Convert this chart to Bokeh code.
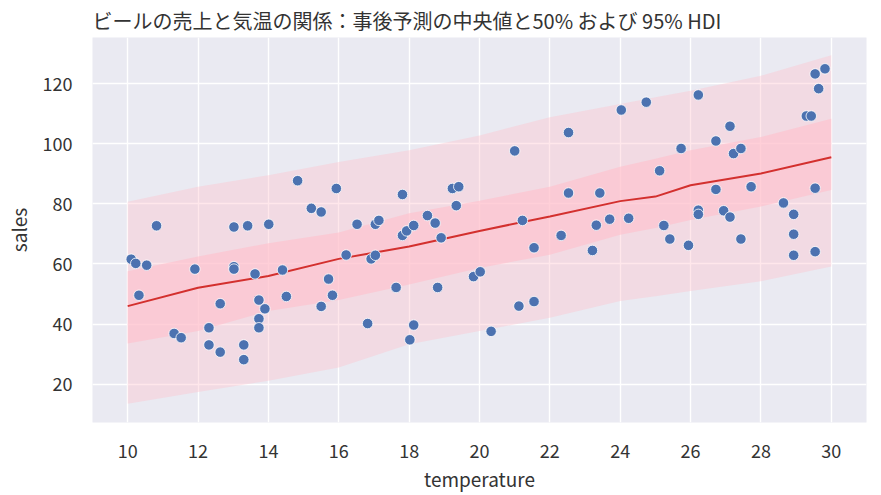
from bokeh.plotting import figure
from bokeh.models import ColumnDataSource, Range1d, FixedTicker
from bokeh.embed import file_html
from bokeh.resources import INLINE

# observed data (temperature, sales)
temperature = [10.10, 10.23, 10.54, 10.32, 10.82, 11.32, 11.52, 11.91, 12.31, 12.31,
               12.63, 12.63, 13.02, 13.02, 13.02, 13.30, 13.30, 13.41, 13.62, 13.73,
               13.73, 13.73, 13.90, 14.01, 14.40, 14.51, 14.83, 15.22, 15.50, 15.50,
               15.71, 15.82, 15.93, 16.21, 16.52, 16.82, 16.92, 17.04, 17.04, 17.14,
               17.63, 17.81, 17.81, 17.93, 18.02, 18.13, 18.13, 18.52, 18.74, 18.81,
               18.91, 19.23, 19.41, 19.34, 19.83, 20.02, 20.33, 21.00, 21.12, 21.22,
               21.55, 21.55, 22.32, 22.53, 22.53, 23.21, 23.32, 23.42, 23.70, 24.03,
               24.24, 24.74, 25.12, 25.24, 25.41, 25.73, 25.94, 26.22, 26.22, 26.22,
               26.72, 26.72, 26.94, 27.12, 27.12, 27.22, 27.43, 27.43, 27.72, 28.64,
               28.93, 28.93, 28.93, 29.29, 29.43, 29.54, 29.64, 29.82, 29.54, 29.54]
sales = [61.6, 60.2, 59.6, 49.6, 72.7, 36.9, 35.5, 58.3, 38.8, 33.1,
         46.8, 30.7, 72.3, 59.1, 58.3, 33.1, 28.2, 72.7, 56.7, 48.0,
         41.8, 38.8, 45.1, 73.2, 58.0, 49.2, 87.7, 78.5, 77.3, 45.9,
         55.0, 49.6, 85.1, 63.0, 73.2, 40.2, 61.7, 62.9, 73.2, 74.5,
         52.2, 83.1, 69.5, 71.0, 34.8, 39.7, 72.8, 76.1, 73.6, 52.2,
         68.7, 85.1, 85.7, 79.4, 55.8, 57.4, 37.6, 97.6, 46.0, 74.5,
         65.4, 47.5, 69.5, 103.7, 83.6, 64.5, 72.9, 83.6, 74.9, 111.2,
         75.2, 113.8, 91.0, 72.8, 68.3, 98.4, 66.2, 116.2, 77.9, 76.5,
         100.9, 84.8, 77.7, 105.8, 75.6, 96.7, 98.4, 68.3, 85.7, 80.3,
         76.5, 69.9, 62.9, 109.2, 109.2, 123.2, 118.3, 124.9, 85.2, 64.1]

# posterior summaries along temperature
grid_x = [10, 12, 14, 16, 18, 20, 22, 24, 25, 26, 28, 30]
median = [46.0, 52.1, 56.0, 61.7, 65.8, 71.0, 75.8, 80.9, 82.4, 86.2, 90.1, 95.5]
hdi95_low = [13.5, 17.4, 21.2, 25.6, 33.3, 37.7, 42.1, 47.7, 49.3, 51.0, 54.3, 59.2]
hdi95_high = [80.7, 85.7, 89.5, 93.9, 97.8, 102.7, 108.8, 113.2, 115.4, 117.6, 122.6, 129.4]
hdi50_low = [33.6, 37.7, 44.4, 48.0, 53.2, 58.7, 63.1, 69.7, 72.0, 74.6, 79.1, 84.6]
hdi50_high = [57.6, 62.5, 66.9, 70.5, 76.9, 81.0, 85.7, 92.3, 95.0, 97.8, 102.2, 108.3]

x_ticks = [10, 12, 14, 16, 18, 20, 22, 24, 26, 28, 30]
y_ticks = [20, 40, 60, 80, 100, 120]

FONT = "Noto Sans CJK JP"

p = figure(width=873, height=494, output_backend="svg", toolbar_location=None,
           x_range=Range1d(9.0, 31.0), y_range=Range1d(7.3, 135.3),
           title="ビールの売上と気温の関係：事後予測の中央値と50% および 95% HDI",
           min_border_left=92, min_border_right=7, min_border_top=36, min_border_bottom=72)

p.background_fill_color = "#EAEAF2"
p.border_fill_color = "white"
p.outline_line_color = None

p.title.text_font = FONT
p.title.text_font_size = "20px"
p.title.text_font_style = "normal"
p.title.text_color = "#333333"
p.title.offset = 0
p.title.standoff = 6

band = ColumnDataSource(dict(x=grid_x, m=median, l95=hdi95_low, h95=hdi95_high,
                             l50=hdi50_low, h50=hdi50_high))
p.varea(x="x", y1="l95", y2="h95", source=band, fill_color="#FFC0CB", fill_alpha=0.38)
p.varea(x="x", y1="l50", y2="h50", source=band, fill_color="#FFC0CB", fill_alpha=0.6)
p.line(x="x", y="m", source=band, line_color="#D3302E", line_width=2)

pts = ColumnDataSource(dict(x=temperature, y=sales))
p.scatter(x="x", y="y", source=pts, size=10.5, fill_color="#4C72B0",
          line_color="white", line_width=0.8)

for ax in (p.xaxis, p.yaxis):
    ax.axis_line_color = None
    ax.major_tick_line_color = None
    ax.minor_tick_line_color = None
    ax.major_label_text_font = FONT
    ax.major_label_text_font_size = "18px"
    ax.major_label_text_color = "#333333"
    ax.axis_label_text_font = FONT
    ax.axis_label_text_font_size = "19px"
    ax.axis_label_text_font_style = "normal"
    ax.axis_label_text_color = "#333333"

p.xaxis.ticker = FixedTicker(ticks=x_ticks)
p.yaxis.ticker = FixedTicker(ticks=y_ticks)
p.xaxis.axis_label = "temperature"
p.yaxis.axis_label = "sales"
p.xaxis.major_label_standoff = 15
p.yaxis.major_label_standoff = 14
p.xaxis.axis_label_standoff = 4
p.yaxis.axis_label_standoff = 8

p.xgrid.grid_line_color = "white"
p.ygrid.grid_line_color = "white"
p.xgrid.grid_line_width = 1.4
p.ygrid.grid_line_width = 1.4

open("out.html", "w").write(file_html(p, INLINE))
